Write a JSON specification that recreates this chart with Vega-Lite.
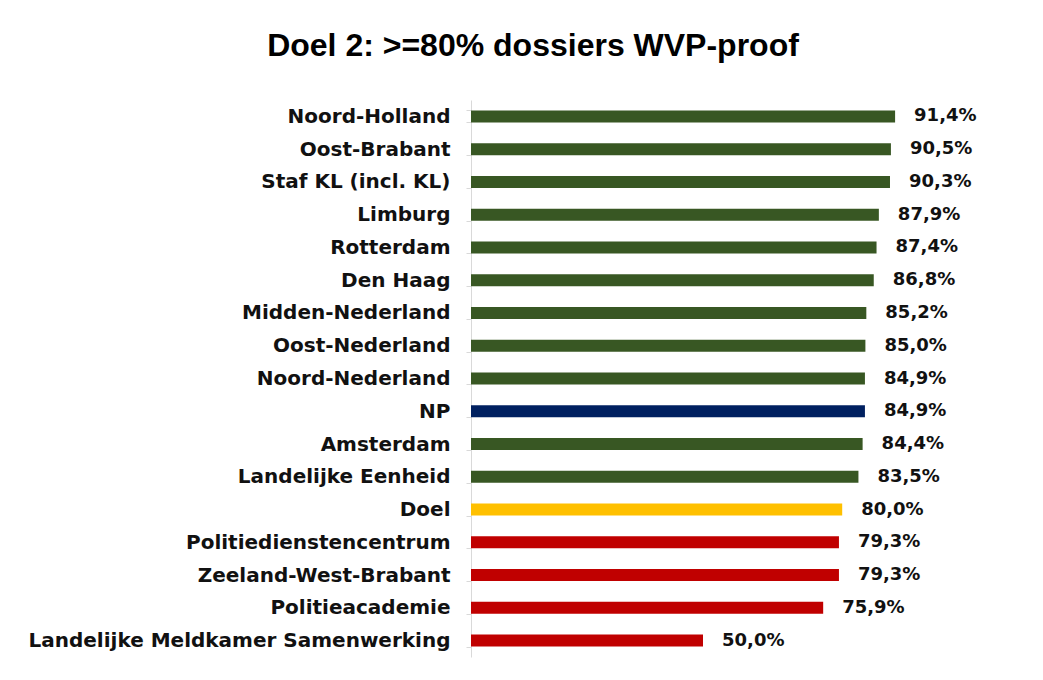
{
  "$schema": "https://vega.github.io/schema/vega-lite/v6.json",
  "autosize": "none",
  "width": 464,
  "height": 557,
  "padding": {"left": 471, "top": 100, "right": 108, "bottom": 23},
  "background": "white",
  "config": {
    "view": {"stroke": null},
    "locale": {"number": {"decimal": ",", "thousands": ".", "grouping": [3], "currency": ["€", ""]}}
  },
  "title": {
    "text": "Doel 2: >=80% dossiers WVP-proof",
    "font": "Liberation Sans",
    "fontSize": 32,
    "fontWeight": "bold",
    "color": "#000000",
    "anchor": "middle",
    "dx": -170,
    "offset": 27
  },
  "data": {
    "values": [
      {"regio": "Noord-Holland", "score": 0.914, "groep": "regio"},
      {"regio": "Oost-Brabant", "score": 0.905, "groep": "regio"},
      {"regio": "Staf KL (incl. KL)", "score": 0.903, "groep": "regio"},
      {"regio": "Limburg", "score": 0.879, "groep": "regio"},
      {"regio": "Rotterdam", "score": 0.874, "groep": "regio"},
      {"regio": "Den Haag", "score": 0.868, "groep": "regio"},
      {"regio": "Midden-Nederland", "score": 0.852, "groep": "regio"},
      {"regio": "Oost-Nederland", "score": 0.850, "groep": "regio"},
      {"regio": "Noord-Nederland", "score": 0.849, "groep": "regio"},
      {"regio": "NP", "score": 0.849, "groep": "NP"},
      {"regio": "Amsterdam", "score": 0.844, "groep": "regio"},
      {"regio": "Landelijke Eenheid", "score": 0.835, "groep": "regio"},
      {"regio": "Doel", "score": 0.800, "groep": "Doel"},
      {"regio": "Politiedienstencentrum", "score": 0.793, "groep": "onder"},
      {"regio": "Zeeland-West-Brabant", "score": 0.793, "groep": "onder"},
      {"regio": "Politieacademie", "score": 0.759, "groep": "onder"},
      {"regio": "Landelijke Meldkamer Samenwerking", "score": 0.500, "groep": "onder"}
    ]
  },
  "encoding": {
    "y": {
      "field": "regio",
      "type": "nominal",
      "sort": null,
      "scale": {"paddingInner": 0.634, "paddingOuter": 0.317},
      "axis": {
        "title": null,
        "labelFont": "DejaVu Sans",
        "labelFontSize": 20,
        "labelFontWeight": "bold",
        "labelColor": "#111111",
        "labelPadding": 16,
        "labelLimit": 500,
        "tickBand": "extent",
        "tickSize": 5,
        "tickColor": "#d9d9d9",
        "domainColor": "#d9d9d9",
        "domainWidth": 1
      }
    },
    "x": {
      "field": "score",
      "type": "quantitative",
      "scale": {"domain": [0, 1], "nice": false},
      "axis": null
    }
  },
  "layer": [
    {
      "mark": {"type": "bar"},
      "encoding": {
        "color": {
          "field": "groep",
          "type": "nominal",
          "scale": {"domain": ["regio", "NP", "Doel", "onder"], "range": ["#385723", "#002060", "#FFC000", "#C00000"]},
          "legend": null
        }
      }
    },
    {
      "mark": {"type": "text", "align": "left", "baseline": "middle", "dx": 19, "font": "DejaVu Sans", "fontSize": 18, "fontWeight": "bold", "color": "#111111"},
      "encoding": {
        "text": {"field": "score", "type": "quantitative", "format": ".1%"}
      }
    }
  ]
}
